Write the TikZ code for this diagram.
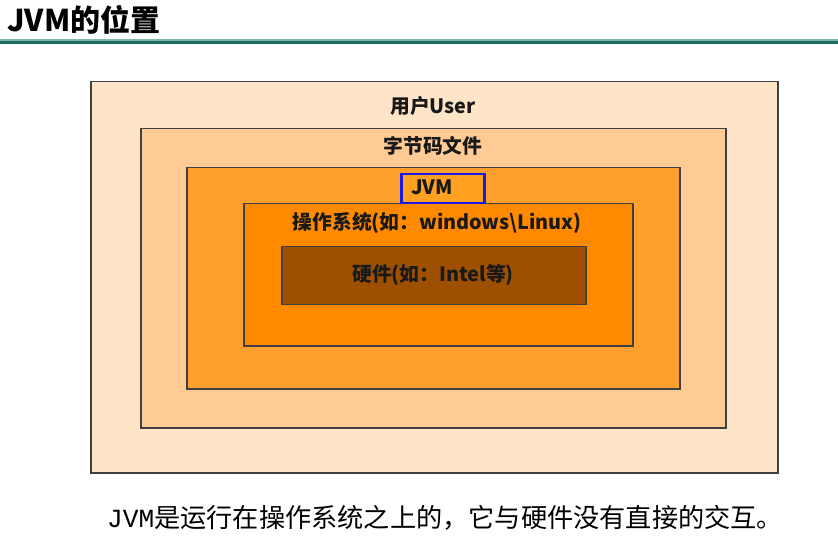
\documentclass[tikz,border=0pt]{standalone}
\usepackage{fontspec}
\setmainfont{Noto Sans CJK SC}
\newfontfamily\cjk{Noto Sans CJK SC}
\newfontfamily\monof{Liberation Mono}
\definecolor{tealline}{HTML}{1B6E62}
\definecolor{tealline2}{HTML}{7FB8AE}
\definecolor{cA}{HTML}{FFE5C8}
\definecolor{cB}{HTML}{FFCB94}
\definecolor{cC}{HTML}{FF9F2E}
\definecolor{cD}{HTML}{FF8A00}
\definecolor{cE}{HTML}{9E5000}
\definecolor{jvmfill}{HTML}{FFA020}
\definecolor{jvmblue}{HTML}{1A1AE6}
\definecolor{bord}{HTML}{404040}
\tikzset{
  layer/.style={draw=bord, line width=1.5pt, anchor=north west, inner sep=0pt},
  lbl/.style={font=\cjk\bfseries\fontsize{19.8}{22}\selectfont, text=black!90, inner sep=0pt},
}
\begin{document}
\begin{tikzpicture}[x=1pt,y=-1pt]
\useasboundingbox (0,0) rectangle (838,537);
\fill[white] (0,0) rectangle (838,537);
% title
\node[anchor=west, inner sep=0pt, font=\cjk\bfseries\fontsize{30}{31}\selectfont] (title) at (7,20) {JVM的位置};
\fill[tealline2] (0,39) rectangle (838,41);
\fill[tealline] (0,41) rectangle (838,44.5);
% layers
\node[layer, fill=cA, minimum width=687pt, minimum height=391pt] (user) at (90,81) {};
\node[layer, fill=cB, minimum width=585pt, minimum height=299pt] (byte) at (140,128) {};
\node[layer, fill=cC, minimum width=493pt, minimum height=221pt] (jvm) at (186,167) {};
\node[layer, fill=cD, minimum width=389pt, minimum height=142pt] (os) at (243,203) {};
\node[layer, fill=cE, minimum width=304pt, minimum height=58pt] (hw) at (281,246) {};
% labels
\node[lbl] (tuser) at (433,106) {用户User};
\node[lbl] (tbyte) at (433,146) {字节码文件};
\node[draw=jvmblue, line width=2.5pt, fill=jvmfill, minimum width=83pt, minimum height=29pt, anchor=north west, inner sep=0pt] (jvmbox) at (400,173) {};
\node[lbl] (tjvm) at (432,187.5) {JVM};
\node[lbl] (tos) at (437,223) {操作系统(如：windows\textbackslash Linux)};
\node[lbl] (thw) at (433,275) {硬件(如：Intel等)};
% caption
\node[anchor=west, inner sep=0pt, font=\fontsize{26.2}{28}\selectfont] (cap) at (107,518) {{\monof JVM}是运行在操作系统之上的，它与硬件没有直接的交互。};
\end{tikzpicture}
\end{document}
